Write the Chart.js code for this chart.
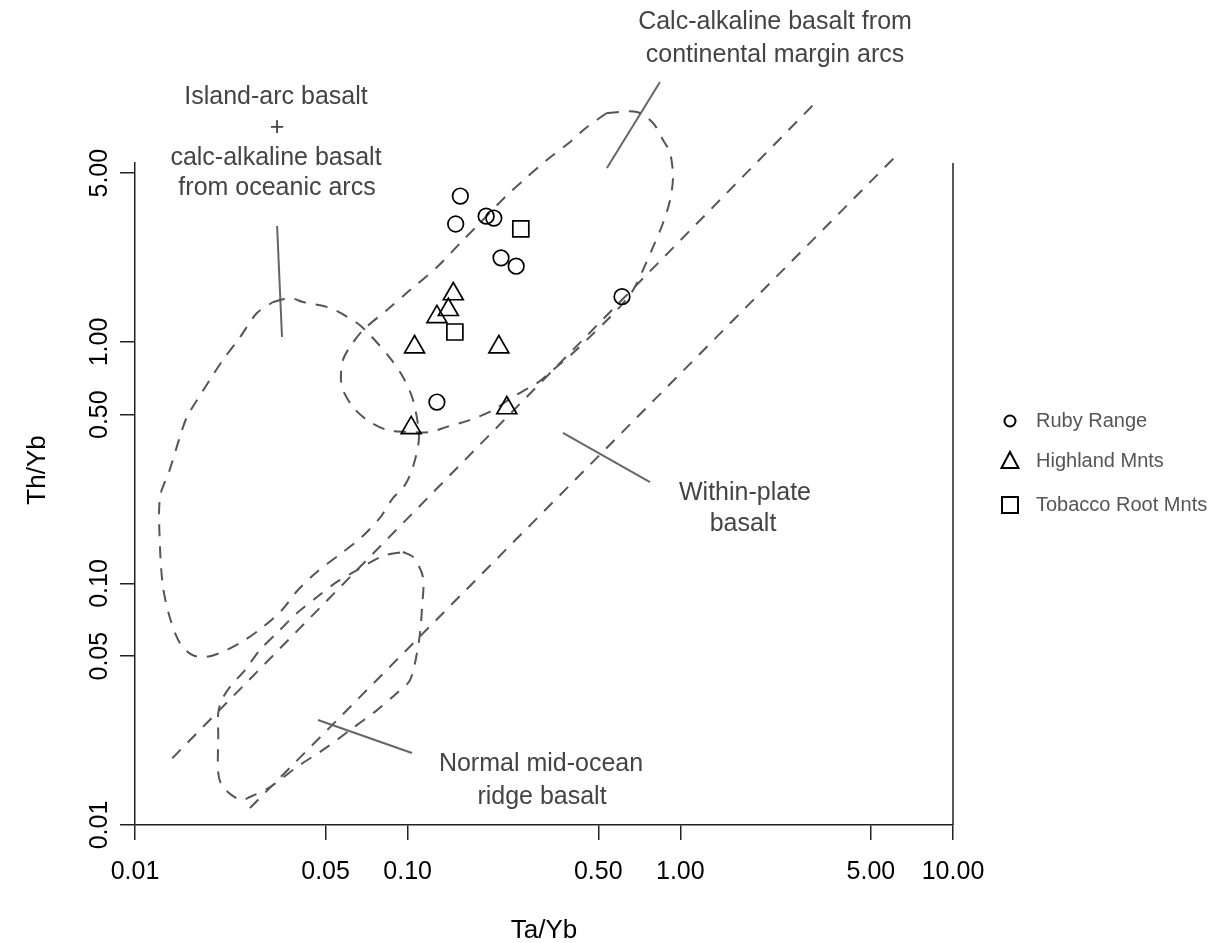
<!DOCTYPE html>
<html>
<head>
<meta charset="utf-8">
<title>Th/Yb vs Ta/Yb</title>
<script src="https://cdn.jsdelivr.net/npm/chart.js@4.4.1/dist/chart.umd.min.js"></script>
<style>
  html, body { margin: 0; padding: 0; background: #fff; }
  #wrap { width: 1232px; height: 943px; }
</style>
</head>
<body>
<div id="wrap"><canvas id="chart" width="1232" height="943"></canvas></div>
<script>
// axis ticks
const xTicks = [0.01, 0.05, 0.1, 0.5, 1, 5, 10];
const yTicks = [0.01, 0.05, 0.1, 0.5, 1, 5];

// samples (Ta/Yb, Th/Yb)
const rubyTa = [0.156, 0.150, 0.194, 0.207, 0.220, 0.250, 0.611, 0.128];
const rubyTh = [4.02, 3.08, 3.32, 3.26, 2.23, 2.06, 1.54, 0.564];
const highlandTa = [0.147, 0.141, 0.128, 0.106, 0.216, 0.231, 0.103];
const highlandTh = [1.58, 1.36, 1.27, 0.953, 0.953, 0.533, 0.441];
const tobaccoTa = [0.260, 0.149];
const tobaccoTh = [2.94, 1.10];

// field boundaries (Ta/Yb, Th/Yb)
const islandArcField = [
  [0.0321, 1.464], [0.0370, 1.521], [0.0413, 1.464], [0.0519, 1.383], [0.0652, 1.198],
  [0.0728, 1.069], [0.0861, 0.859], [0.0961, 0.716], [0.1046, 0.575], [0.110, 0.404],
  [0.1046, 0.304], [0.0978, 0.256], [0.0884, 0.226], [0.0791, 0.187], [0.0680, 0.156],
  [0.0574, 0.134], [0.0469, 0.1126], [0.0396, 0.094], [0.0346, 0.0777], [0.0295, 0.0661],
  [0.0243, 0.0567], [0.0205, 0.0516], [0.0181, 0.0496], [0.0162, 0.0506], [0.0146, 0.0567],
  [0.0134, 0.0727], [0.01267, 0.0967], [0.01235, 0.1416], [0.01235, 0.228], [0.0134, 0.295],
  [0.0146, 0.404], [0.0155, 0.489], [0.0169, 0.575], [0.0188, 0.696], [0.0210, 0.842],
  [0.0243, 1.049], [0.0280, 1.318], [0.0321, 1.464]
];
const continentalArcField = [
  [0.538, 8.88], [0.693, 8.96], [0.794, 8.07], [0.864, 6.86], [0.917, 6.06],
  [0.940, 4.82], [0.917, 3.87], [0.864, 3.11], [0.794, 2.47], [0.730, 1.99],
  [0.671, 1.64], [0.601, 1.40], [0.538, 1.23], [0.466, 1.05], [0.404, 0.90],
  [0.341, 0.766], [0.298, 0.676], [0.243, 0.592], [0.206, 0.523], [0.169, 0.475],
  [0.139, 0.445], [0.121, 0.424], [0.0994, 0.424], [0.084, 0.432], [0.0710, 0.475],
  [0.0630, 0.538], [0.0579, 0.633], [0.0569, 0.716], [0.0579, 0.842], [0.0614, 0.953],
  [0.0686, 1.12], [0.084, 1.357], [0.102, 1.64], [0.128, 2.04], [0.156, 2.57],
  [0.184, 3.11], [0.228, 3.99], [0.274, 4.82], [0.324, 5.67], [0.394, 6.73],
  [0.455, 7.77], [0.538, 8.88]
];
const morbField = [
  [0.0961, 0.135], [0.1046, 0.1288], [0.1138, 0.1064], [0.1129, 0.0799], [0.111, 0.0624],
  [0.1082, 0.0516], [0.102, 0.0398], [0.0914, 0.0352], [0.0772, 0.0299], [0.0614, 0.0247],
  [0.0506, 0.0210], [0.0393, 0.0174], [0.0313, 0.01437], [0.0264, 0.01306], [0.0243, 0.0127],
  [0.0210, 0.01437], [0.0202, 0.01642], [0.0202, 0.0231], [0.0202, 0.0291], [0.0208, 0.0329],
  [0.0223, 0.0373], [0.0253, 0.0438], [0.0287, 0.0530], [0.0340, 0.0642], [0.0393, 0.0755],
  [0.0465, 0.0879], [0.0550, 0.1015], [0.0652, 0.1137], [0.0812, 0.130], [0.0961, 0.135]
];
const arrayUpperLine = [[0.0137, 0.0189], [3.20, 10.05]];
const arrayLowerLine = [[0.0264, 0.01176], [6.23, 5.95]];

// label pointers
const pointerIslandArc = [[0.0332, 3.02], [0.0346, 1.049]];
const pointerContinental = [[0.842, 11.93], [0.538, 5.25]];
const pointerWithinPlate = [[0.371, 0.420], [0.774, 0.263]];
const pointerMorb = [[0.0469, 0.0272], [0.1037, 0.01987]];

const seriesNames = ['Ruby Range', 'Highland Mnts', 'Tobacco Root Mnts'];

const fieldLabels = [
  { text: 'Calc-alkaline basalt from', x: 775, y: 22 },
  { text: 'continental margin arcs', x: 775, y: 55 },
  { text: 'Island-arc basalt', x: 276, y: 97 },
  { text: '+', x: 277, y: 128 },
  { text: 'calc-alkaline basalt', x: 276, y: 158 },
  { text: 'from oceanic arcs', x: 277, y: 188 },
  { text: 'Within-plate', x: 745, y: 493 },
  { text: 'basalt', x: 743, y: 524 },
  { text: 'Normal mid-ocean', x: 541, y: 764 },
  { text: 'ridge basalt', x: 542, y: 797 }
];

const FONT = "'Liberation Sans', Arial, Helvetica, sans-serif";
Chart.defaults.font.family = FONT;

const zip = (xs, ys) => xs.map((x, i) => ({ x, y: ys[i] }));
const toPoints = pairs => pairs.map(([x, y]) => ({ x, y }));

function markerDataset(label, xs, ys, pointStyle, radius) {
  return {
    label,
    data: zip(xs, ys),
    pointStyle,
    pointRadius: radius,
    pointHoverRadius: radius,
    pointBorderWidth: 1.7,
    pointBorderColor: '#000',
    pointBackgroundColor: 'rgba(0,0,0,0)',
    showLine: false,
    clip: false
  };
}

function boundaryDataset(label, pairs, tension) {
  return {
    label,
    data: toPoints(pairs),
    showLine: true,
    borderColor: '#555',
    borderWidth: 2,
    borderDash: [12, 10],
    pointRadius: 0,
    pointHoverRadius: 0,
    tension,
    fill: false,
    clip: false
  };
}

function pointerDataset(label, pairs) {
  return {
    label,
    data: toPoints(pairs),
    showLine: true,
    borderColor: '#666',
    borderWidth: 2,
    pointRadius: 0,
    pointHoverRadius: 0,
    fill: false,
    clip: false
  };
}

const overlayPlugin = {
  id: 'overlay',
  afterDraw(chart) {
    const { ctx, chartArea, scales } = chart;
    ctx.save();

    // right frame line
    ctx.strokeStyle = '#222';
    ctx.lineWidth = 1.5;
    ctx.beginPath();
    ctx.moveTo(chartArea.right, chartArea.top);
    ctx.lineTo(chartArea.right, chartArea.bottom);
    ctx.stroke();

    // rotated y tick labels
    ctx.fillStyle = '#000';
    ctx.font = `25px ${FONT}`;
    ctx.textAlign = 'center';
    ctx.textBaseline = 'middle';
    yTicks.forEach(v => {
      const py = scales.y.getPixelForValue(v);
      ctx.save();
      ctx.translate(chartArea.left - 35, py);
      ctx.rotate(-Math.PI / 2);
      ctx.fillText(v.toFixed(2), 0, 0);
      ctx.restore();
    });

    // y title
    ctx.save();
    ctx.font = `26px ${FONT}`;
    ctx.translate(38, 470);
    ctx.rotate(-Math.PI / 2);
    ctx.fillText('Th/Yb', 0, 0);
    ctx.restore();

    // field labels
    ctx.fillStyle = '#444';
    ctx.font = `25px ${FONT}`;
    fieldLabels.forEach(l => ctx.fillText(l.text, l.x, l.y));

    // legend
    const lx = 1010, tx = 1036, rows = [421, 461, 505];
    ctx.strokeStyle = '#000';
    ctx.lineWidth = 2;
    ctx.beginPath();
    ctx.arc(lx, rows[0], 5.5, 0, Math.PI * 2);
    ctx.stroke();
    ctx.beginPath();
    ctx.moveTo(lx, rows[1] - 9);
    ctx.lineTo(lx + 8.5, rows[1] + 7);
    ctx.lineTo(lx - 8.5, rows[1] + 7);
    ctx.closePath();
    ctx.stroke();
    ctx.strokeRect(lx - 8, rows[2] - 8, 16, 16);

    ctx.fillStyle = '#555';
    ctx.font = `20px ${FONT}`;
    ctx.textAlign = 'left';
    seriesNames.forEach((name, i) => ctx.fillText(name, tx, rows[i]));

    ctx.restore();
  }
};

new Chart(document.getElementById('chart'), {
  type: 'scatter',
  data: {
    datasets: [
      markerDataset(seriesNames[0], rubyTa, rubyTh, 'circle', 7.8),
      markerDataset(seriesNames[1], highlandTa, highlandTh, 'triangle', 11.5),
      markerDataset(seriesNames[2], tobaccoTa, tobaccoTh, 'rect', 11.3),
      boundaryDataset('island arc', islandArcField, 0.3),
      boundaryDataset('continental arc', continentalArcField, 0.3),
      boundaryDataset('N-MORB', morbField, 0.3),
      boundaryDataset('array upper', arrayUpperLine, 0),
      boundaryDataset('array lower', arrayLowerLine, 0),
      pointerDataset('p1', pointerIslandArc),
      pointerDataset('p2', pointerContinental),
      pointerDataset('p3', pointerWithinPlate),
      pointerDataset('p4', pointerMorb)
    ]
  },
  options: {
    responsive: false,
    devicePixelRatio: 1,
    animation: false,
    layout: { padding: { left: 0, right: 279, top: 163, bottom: 0 } },
    plugins: {
      legend: { display: false },
      tooltip: { enabled: false }
    },
    scales: {
      x: {
        type: 'logarithmic',
        min: 0.01,
        max: 10,
        afterBuildTicks: scale => { scale.ticks = xTicks.map(value => ({ value })); },
        afterFit: scale => { scale.height = 118; },
        ticks: {
          color: '#000',
          font: { size: 25 },
          padding: 17,
          autoSkip: false,
          maxRotation: 0,
          callback: value => Number(value).toFixed(2)
        },
        grid: { drawOnChartArea: false, tickLength: 15, color: '#222', lineWidth: 1.5 },
        border: { color: '#222', width: 1.5 },
        title: {
          display: true,
          text: 'Ta/Yb',
          color: '#000',
          font: { size: 26 },
          padding: { top: 0, bottom: -3 }
        }
      },
      y: {
        type: 'logarithmic',
        min: 0.01,
        max: 5.51,
        afterBuildTicks: scale => { scale.ticks = yTicks.map(value => ({ value })); },
        afterFit: scale => { scale.width = 135; },
        ticks: { display: false },
        grid: { drawOnChartArea: false, tickLength: 15, color: '#222', lineWidth: 1.5 },
        border: { color: '#222', width: 1.5 }
      }
    }
  },
  plugins: [overlayPlugin]
});
</script>
</body>
</html>
